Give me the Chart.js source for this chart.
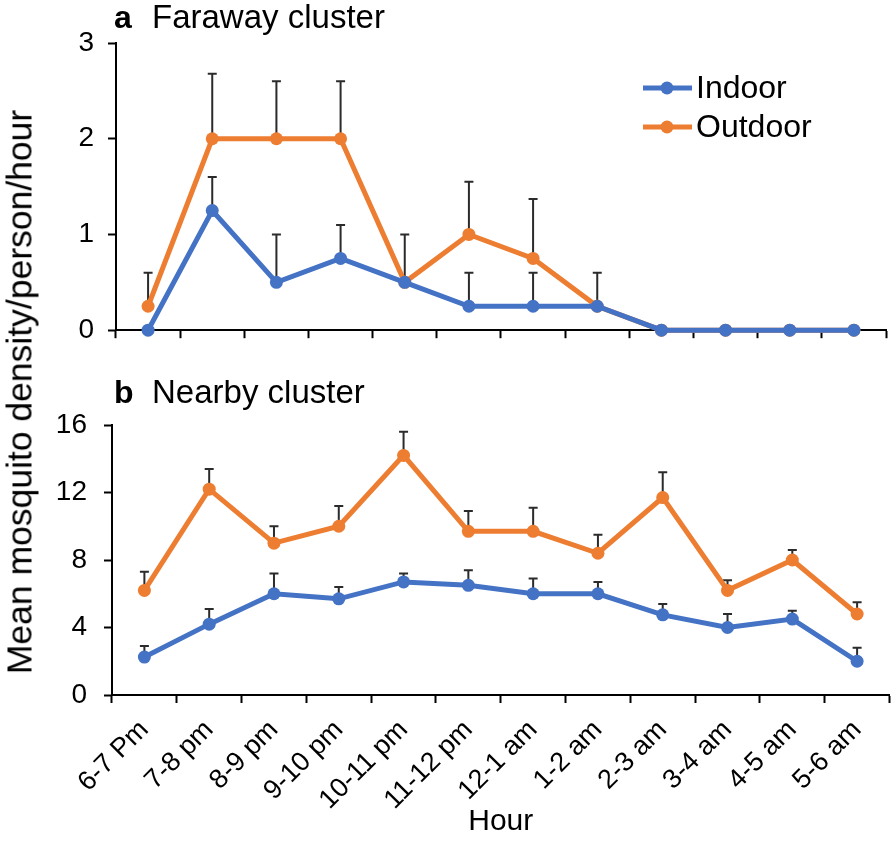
<!DOCTYPE html>
<html>
<head>
<meta charset="utf-8">
<script src="https://cdn.jsdelivr.net/npm/chart.js@4.4.1/dist/chart.umd.min.js"></script>
<style>
  body { margin: 0; background: #fff; }
  #wrap { position: relative; width: 896px; height: 849px; font-family: 'Liberation Sans', Arial, sans-serif; }
  #chartA { position: absolute; left: 0; top: 0; }
  #chartB { position: absolute; left: 0; top: 380px; }
  #ytitle {
    position: absolute; left: 20px; top: 392px; white-space: nowrap;
    transform: translate(-50%, -50%) rotate(-90deg);
    font-size: 35.5px; color: #000;
  }
</style>
</head>
<body>
<div id="wrap">
  <canvas id="chartA" width="896" height="361"></canvas>
  <canvas id="chartB" width="896" height="469"></canvas>
  <div id="ytitle">Mean mosquito density/person/hour</div>
</div>
<script>
'use strict';

const hours = ['6-7 Pm', '7-8 pm', '8-9 pm', '9-10 pm', '10-11 pm', '11-12 pm',
  '12-1 am', '1-2 am', '2-3 am', '3-4 am', '4-5 am', '5-6 am'];

// a  Faraway cluster
const farIndoor = [0, 1.25, 0.5, 0.75, 0.5, 0.25, 0.25, 0.25, 0, 0, 0, 0];
const farIndoorErr = [0, 0.35, 0.5, 0.35, 0.5, 0.35, 0.35, 0.35, 0, 0, 0, 0];
const farOutdoor = [0.25, 2, 2, 2, 0.5, 1, 0.75, 0.25, 0, 0, 0, 0];
const farOutdoorErr = [0.35, 0.68, 0.6, 0.6, 0, 0.55, 0.62, 0, 0, 0, 0, 0];

// b  Nearby cluster
const nearIndoor = [2.25, 4.2, 6.0, 5.7, 6.7, 6.5, 6.0, 6.0, 4.75, 4.0, 4.5, 2.0];
const nearIndoorErr = [0.65, 0.9, 1.2, 0.7, 0.5, 0.9, 0.9, 0.7, 0.65, 0.8, 0.5, 0.8];
const nearOutdoor = [6.2, 12.2, 9.0, 10.0, 14.2, 9.7, 9.7, 8.4, 11.7, 6.2, 8.0, 4.8];
const nearOutdoorErr = [1.1, 1.2, 1.0, 1.2, 1.4, 1.2, 1.4, 1.1, 1.5, 0.6, 0.6, 0.7];

const farTicks = [0, 1, 2, 3];
const nearTicks = [0, 4, 8, 12, 16];

const BLUE = '#4472C4';
const ORANGE = '#ED7D31';
const FONT = "'Liberation Sans', Arial, sans-serif";

Chart.defaults.font.family = FONT;
Chart.defaults.color = '#000';

function series(label, data, err, color) {
  return {
    label: label,
    data: data,
    err: err,
    borderColor: color,
    backgroundColor: color,
    borderWidth: 5,
    pointRadius: 6.5,
    pointHoverRadius: 6.5,
    pointBorderWidth: 0,
    pointBackgroundColor: color,
    tension: 0,
    clip: false
  };
}

// upper error bars, drawn behind the markers
const errorBars = {
  id: 'errorBars',
  beforeDatasetsDraw(chart) {
    const ctx = chart.ctx;
    const xs = chart.scales.x, ys = chart.scales.y;
    ctx.save();
    ctx.strokeStyle = '#2b2b2b';
    ctx.lineWidth = 2;
    chart.data.datasets.forEach(ds => {
      ds.data.forEach((v, i) => {
        const e = ds.err[i];
        if (!e) return;
        const x = xs.getPixelForValue(i);
        const y0 = ys.getPixelForValue(v);
        const y1 = ys.getPixelForValue(v + e);
        ctx.beginPath();
        ctx.moveTo(x, y0);
        ctx.lineTo(x, y1);
        ctx.moveTo(x - 4.5, y1);
        ctx.lineTo(x + 4.5, y1);
        ctx.stroke();
      });
    });
    ctx.restore();
  }
};

// panel heading: bold letter + name
function panelTitle(letter, name, baseline) {
  return {
    id: 'panelTitle',
    afterDraw(chart) {
      const ctx = chart.ctx;
      ctx.save();
      ctx.fillStyle = '#000';
      ctx.textBaseline = 'alphabetic';
      ctx.font = 'bold 32px ' + FONT;
      ctx.fillText(letter, 114, baseline);
      ctx.font = '33px ' + FONT;
      ctx.fillText(name, 152, baseline);
      ctx.restore();
    }
  };
}

const legendLines = {
  id: 'legendLines',
  afterDraw(chart) {
    const ctx = chart.ctx;
    ctx.save();
    chart.data.datasets.forEach((ds, k) => {
      const y = 88 + k * 39;
      ctx.strokeStyle = ds.borderColor;
      ctx.lineWidth = 5;
      ctx.beginPath();
      ctx.moveTo(643, y);
      ctx.lineTo(692, y);
      ctx.stroke();
      ctx.fillStyle = ds.borderColor;
      ctx.beginPath();
      ctx.arc(667, y, 6.5, 0, Math.PI * 2);
      ctx.fill();
      ctx.fillStyle = '#000';
      ctx.font = '32px ' + FONT;
      ctx.textBaseline = 'middle';
      ctx.fillText(ds.label, 696, y + 1);
    });
    ctx.restore();
  }
};

function buildOptions(opt) {
  return {
    responsive: false,
    animation: false,
    events: [],
    layout: { padding: { top: opt.top, right: opt.right, left: 0, bottom: 0 } },
    plugins: { legend: { display: false }, tooltip: { enabled: false } },
    scales: {
      x: {
        type: 'category',
        offset: true,
        grid: { offset: true, drawOnChartArea: false, drawTicks: true, tickLength: 8, tickColor: '#000', tickWidth: 2 },
        border: { color: '#000', width: 2 },
        ticks: {
          display: opt.showLabels,
          autoSkip: false,
          minRotation: 45,
          maxRotation: 45,
          padding: 11,
          font: { size: 27 },
          color: '#000'
        },
        title: {
          display: opt.showLabels,
          text: 'Hour',
          font: { size: 30 },
          color: '#000',
          padding: { top: 0, bottom: 9 }
        },
        afterFit(scale) { scale.height = opt.xHeight; }
      },
      y: {
        min: 0,
        max: opt.yTicks[opt.yTicks.length - 1],
        afterBuildTicks(scale) { scale.ticks = opt.yTicks.map(v => ({ value: v })); },
        grid: { drawOnChartArea: false, drawTicks: true, tickLength: 8, tickColor: '#000', tickWidth: 2 },
        border: { color: '#000', width: 2 },
        ticks: { font: { size: 28 }, color: '#000', padding: opt.yPad },
        afterFit(scale) { scale.width = opt.left; }
      }
    }
  };
}

new Chart(document.getElementById('chartA').getContext('2d'), {
  type: 'line',
  data: {
    labels: hours,
    datasets: [
      series('Indoor', farIndoor, farIndoorErr, BLUE),
      series('Outdoor', farOutdoor, farOutdoorErr, ORANGE)
    ]
  },
  options: buildOptions({ top: 43, right: 10, left: 116, xHeight: 15, showLabels: false, yTicks: farTicks, yPad: 14 }),
  plugins: [errorBars, panelTitle('a', 'Faraway cluster', 28), legendLines]
});

new Chart(document.getElementById('chartB').getContext('2d'), {
  type: 'line',
  data: {
    labels: hours,
    datasets: [
      series('Indoor', nearIndoor, nearIndoorErr, BLUE),
      series('Outdoor', nearOutdoor, nearOutdoorErr, ORANGE)
    ]
  },
  options: buildOptions({ top: 45, right: 6, left: 112, xHeight: 154, showLabels: true, yTicks: nearTicks, yPad: 17 }),
  plugins: [errorBars, panelTitle('b', 'Nearby cluster', 23)]
});
</script>
</body>
</html>
